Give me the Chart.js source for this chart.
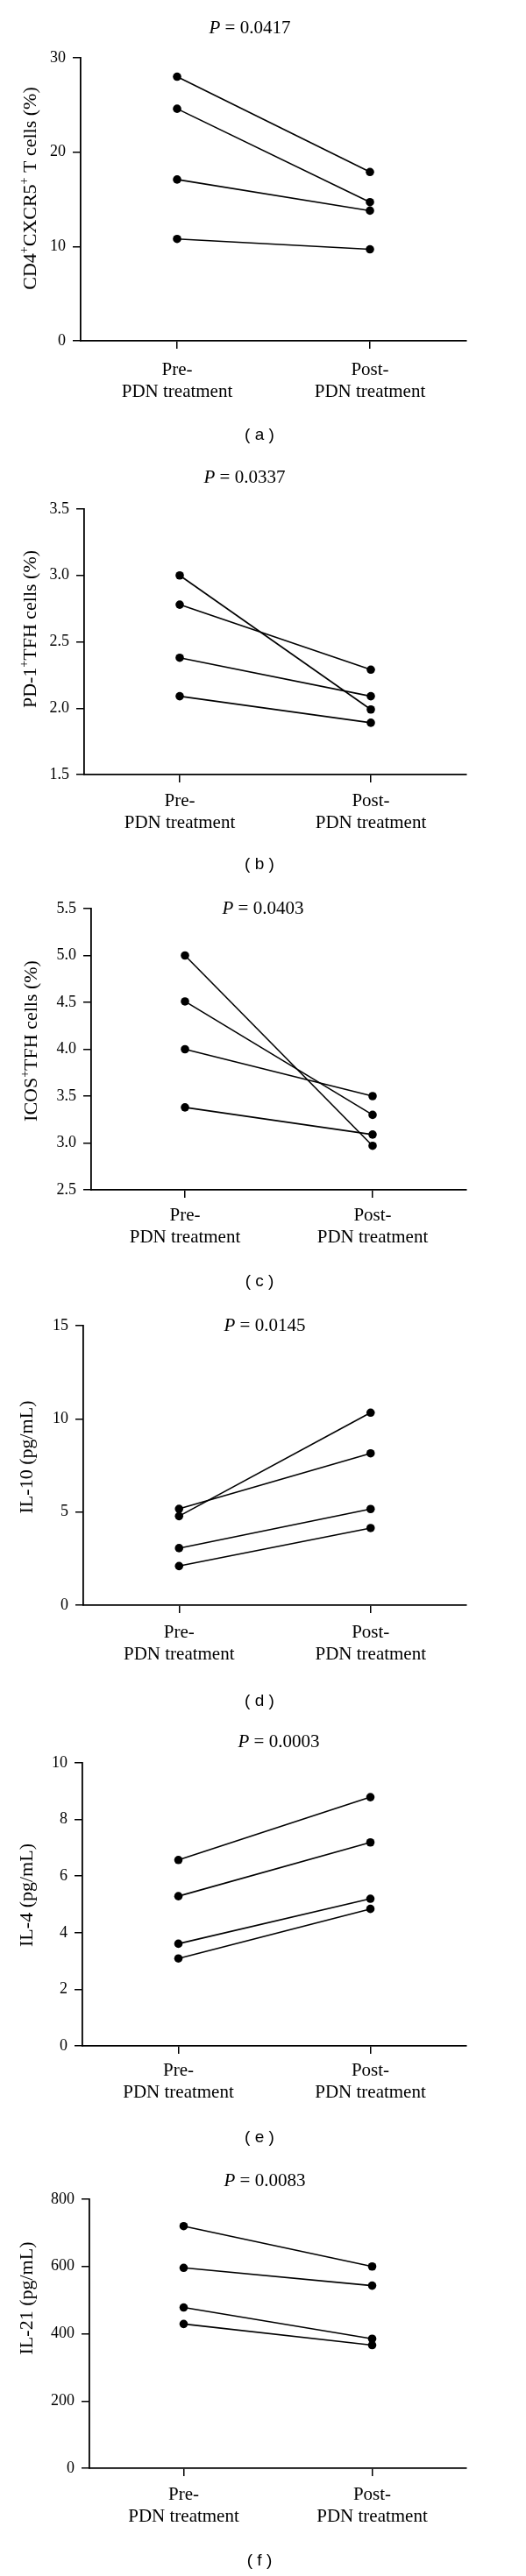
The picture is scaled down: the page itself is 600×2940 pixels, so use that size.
<!DOCTYPE html>
<html>
<head>
<meta charset="utf-8">
<script src="https://cdn.jsdelivr.net/npm/chart.js@4.4.0/dist/chart.umd.min.js"></script>
<style>
  body { margin: 0; background: #fff; }
  #wrap { position: relative; width: 600px; height: 2940px; overflow: hidden; }
  #wrap canvas { position: absolute; left: 0; }
</style>
</head>
<body>
<div id="wrap"></div>
<script>
// Datos
const categories = [['Pre-', 'PDN treatment'], ['Post-', 'PDN treatment']];

const cd4Pre = [28.0, 24.6, 17.1, 10.8];
const cd4Post = [17.9, 14.7, 13.8, 9.7];
const pd1Pre = [3.0, 2.78, 2.38, 2.09];
const pd1Post = [1.99, 2.29, 2.09, 1.89];
const icosPre = [5.0, 4.51, 4.0, 3.38];
const icosPost = [2.97, 3.30, 3.50, 3.09];
const il10Pre = [4.78, 5.17, 3.06, 2.10];
const il10Post = [10.33, 8.15, 5.16, 4.14];
const il4Pre = [6.57, 5.29, 3.61, 3.09];
const il4Post = [8.79, 7.19, 5.20, 4.84];
const il21Pre = [720, 596, 478, 429];
const il21Post = [600, 543, 385, 366];

const cd4Ticks = [0, 10, 20, 30];
const pd1Ticks = [1.5, 2.0, 2.5, 3.0, 3.5];
const icosTicks = [2.5, 3.0, 3.5, 4.0, 4.5, 5.0, 5.5];
const il10Ticks = [0, 5, 10, 15];
const il4Ticks = [0, 2, 4, 6, 8, 10];
const il21Ticks = [0, 200, 400, 600, 800];

const pValues = ['0.0417', '0.0337', '0.0403', '0.0145', '0.0003', '0.0083'];
const panelLetters = ['a', 'b', 'c', 'd', 'e', 'f'];

// Titulos del eje Y (texto normal y superindices)
const yTitles = [
  [['CD4'], ['+', true], ['CXCR5'], ['+', true], [' T cells (%)']],
  [['PD-1'], ['+', true], ['TFH cells (%)']],
  [['ICOS'], ['+', true], ['TFH cells (%)']],
  [['IL-10 (pg/mL)']],
  [['IL-4 (pg/mL)']],
  [['IL-21 (pg/mL)']]
];

const panels = [
  { pre: cd4Pre, post: cd4Post, ticks: cd4Ticks, decimals: 0 },
  { pre: pd1Pre, post: pd1Post, ticks: pd1Ticks, decimals: 1 },
  { pre: icosPre, post: icosPost, ticks: icosTicks, decimals: 1 },
  { pre: il10Pre, post: il10Post, ticks: il10Ticks, decimals: 0 },
  { pre: il4Pre, post: il4Post, ticks: il4Ticks, decimals: 0 },
  { pre: il21Pre, post: il21Post, ticks: il21Ticks, decimals: 0 }
];

// Posiciones de cada panel (relativas al canvas de cada panel)
const layouts = [
  { left: 92, right: 532, top: 66, bottom: 389, titleX: 285, titleY: 32, yTitleX: 35, yTitleY: 215, gap: 33, capY: 497 },
  { left: 96, right: 532, top: 91, bottom: 394, titleX: 279, titleY: 55, yTitleX: 35, yTitleY: 228, gap: 30, capY: 497 },
  { left: 104, right: 532, top: 57, bottom: 378, titleX: 300, titleY: 57, yTitleX: 36, yTitleY: 208, gap: 29, capY: 483 },
  { left: 95, right: 532, top: 43, bottom: 362, titleX: 302, titleY: 43, yTitleX: 31, yTitleY: 193, gap: 31, capY: 472 },
  { left: 94, right: 532, top: 52, bottom: 375, titleX: 318, titleY: 28, yTitleX: 31, yTitleY: 203, gap: 28, capY: 480 },
  { left: 102, right: 532, top: 60, bottom: 367, titleX: 302, titleY: 39, yTitleX: 31, yTitleY: 173, gap: 30, capY: 473 }
];

const SERIF = '"Liberation Serif", "Times New Roman", serif';
const SANS = '"Liberation Sans", Arial, sans-serif';
const CANVAS_H = 510;
const wrap = document.getElementById('wrap');

const makeTextPlugin = (i, g) => ({
  id: 'panelText' + i,
  afterDraw(chart) {
    const ctx = chart.ctx;
    ctx.save();
    ctx.fillStyle = '#000';
    ctx.textBaseline = 'middle';
    ctx.textAlign = 'left';

    // Titulo P = ...
    ctx.font = 'italic 21px ' + SERIF;
    const wP = ctx.measureText('P').width;
    ctx.font = '21px ' + SERIF;
    const rest = ' = ' + pValues[i];
    const wRest = ctx.measureText(rest).width;
    const x0 = g.titleX - (wP + wRest) / 2;
    ctx.font = 'italic 21px ' + SERIF;
    ctx.fillText('P', x0, g.titleY);
    ctx.font = '21px ' + SERIF;
    ctx.fillText(rest, x0 + wP, g.titleY);

    // Titulo eje Y rotado
    ctx.save();
    ctx.translate(g.yTitleX, g.yTitleY);
    ctx.rotate(-Math.PI / 2);
    const segs = yTitles[i];
    const fontFor = s => (s[1] ? '14px ' : '22px ') + SERIF;
    let total = 0;
    segs.forEach(s => { ctx.font = fontFor(s); total += ctx.measureText(s[0]).width; });
    let x = -total / 2;
    segs.forEach(s => {
      ctx.font = fontFor(s);
      ctx.fillText(s[0], x, s[1] ? -7 : 0);
      x += ctx.measureText(s[0]).width;
    });
    ctx.restore();

    // Letra del panel
    ctx.font = '19px ' + SANS;
    ctx.textAlign = 'center';
    ctx.fillText('( ' + panelLetters[i] + ' )', 296, g.capY);
    ctx.restore();
  }
});

panels.forEach((p, i) => {
  const g = layouts[i];
  const canvas = document.createElement('canvas');
  canvas.width = 600;
  canvas.height = CANVAS_H;
  canvas.style.top = (i * 490) + 'px';
  wrap.appendChild(canvas);

  const datasets = p.pre.map((v, k) => ({
    data: [v, p.post[k]],
    borderColor: '#000',
    backgroundColor: '#000',
    borderWidth: 1.6,
    pointRadius: 4.8,
    pointHoverRadius: 4.8,
    pointBorderWidth: 0
  }));

  const axisGrid = { drawOnChartArea: false, tickLength: 9, color: '#000', lineWidth: 1.5 };
  const axisBorder = { color: '#000', width: 1.8 };

  new Chart(canvas, {
    type: 'line',
    data: { labels: categories, datasets: datasets },
    options: {
      responsive: false,
      animation: false,
      events: [],
      layout: { padding: { left: 0, top: g.top, right: 600 - g.right, bottom: 0 } },
      plugins: { legend: { display: false }, tooltip: { enabled: false } },
      scales: {
        x: {
          offset: true,
          grid: axisGrid,
          border: axisBorder,
          ticks: {
            color: '#000',
            font: { family: SERIF, size: 21, lineHeight: 1.2 },
            padding: g.gap - 21.6,
            maxRotation: 0,
            autoSkip: false
          },
          afterFit: s => { s.height = CANVAS_H - g.bottom; }
        },
        y: {
          min: p.ticks[0],
          max: p.ticks[p.ticks.length - 1],
          afterBuildTicks: s => { s.ticks = p.ticks.map(v => ({ value: v })); },
          grid: axisGrid,
          border: axisBorder,
          ticks: {
            color: '#000',
            font: { family: SERIF, size: 18 },
            padding: 8,
            callback: v => Number(v).toFixed(p.decimals)
          },
          afterFit: s => { s.width = g.left; }
        }
      }
    },
    plugins: [makeTextPlugin(i, g)]
  });
});
</script>
</body>
</html>
